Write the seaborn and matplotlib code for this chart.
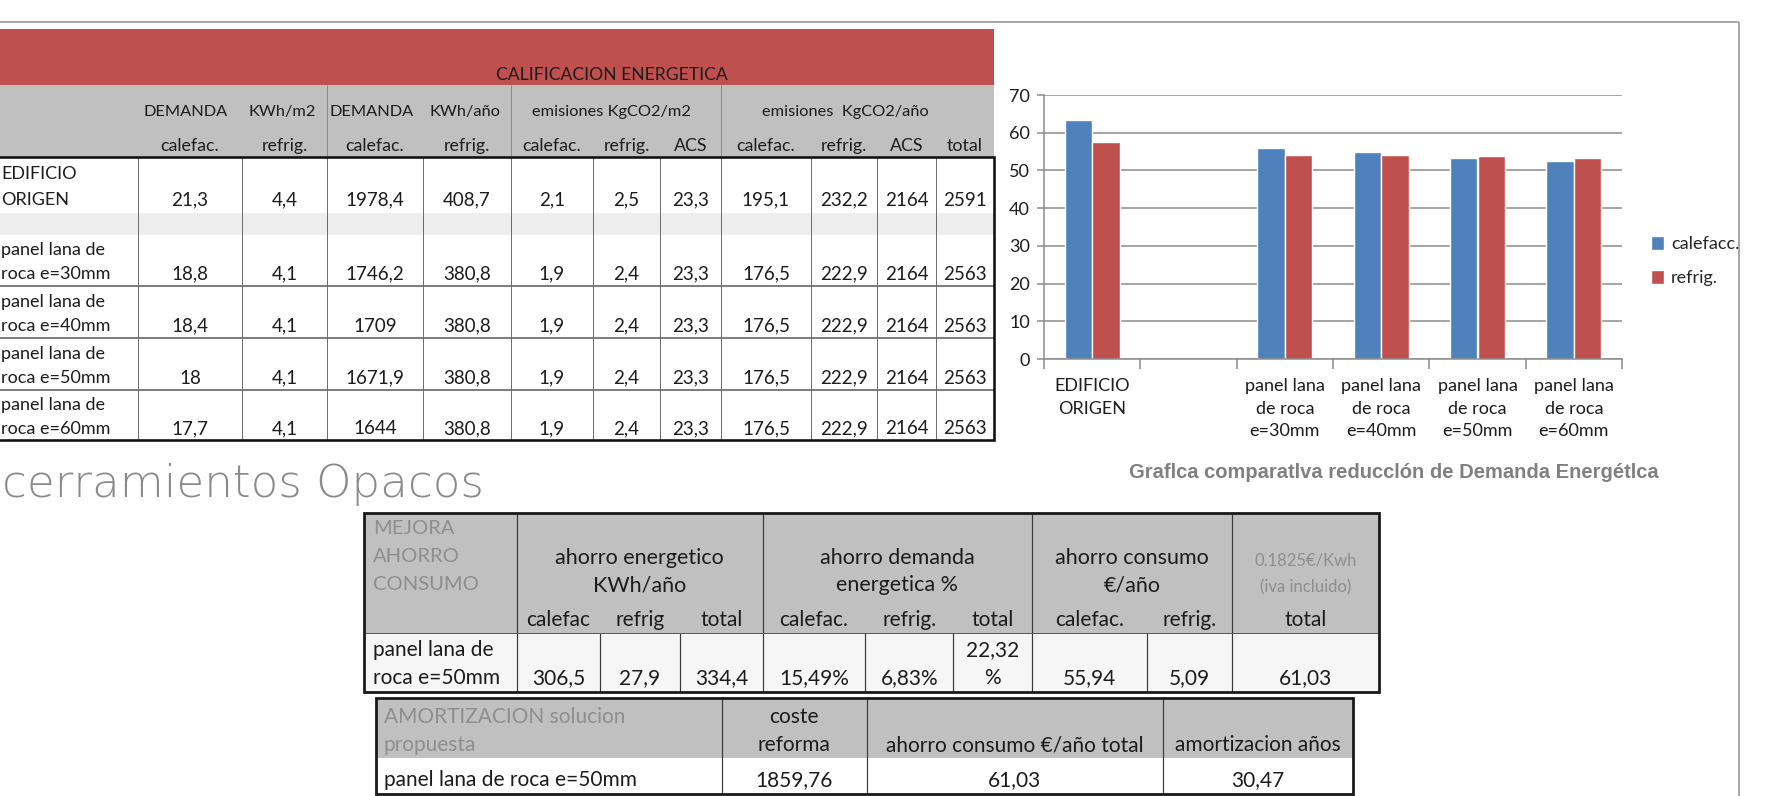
import numpy as np
import pandas as pd
import matplotlib
matplotlib.use("Agg")
import matplotlib.pyplot as plt
from matplotlib.patches import Rectangle
import seaborn as sns

# ---------------- data ----------------
# bar chart
bar_categories = ["EDIFICIO\nORIGEN", "panel lana\nde roca\ne=30mm", "panel lana\nde roca\ne=40mm",
                  "panel lana\nde roca\ne=50mm", "panel lana\nde roca\ne=60mm"]
chart_order = ["EDIFICIO\nORIGEN", "", "panel lana\nde roca\ne=30mm", "panel lana\nde roca\ne=40mm",
               "panel lana\nde roca\ne=50mm", "panel lana\nde roca\ne=60mm"]
series_names = ["calefacc.", "refrig."]
calefacc_values = [63.4, 56.0, 54.8, 53.4, 52.5]
refrig_values = [57.6, 54.0, 54.0, 53.8, 53.4]
y_ticks = [0, 10, 20, 30, 40, 50, 60, 70]
chart_caption = "Graflca comparatlva reducclón de Demanda Energétlca"

# top table
top_title = "CALIFICACION ENERGETICA"
top_group_headers = ["DEMANDA", "KWh/m2", "DEMANDA", "KWh/año", "emisiones KgCO2/m2", "emisiones  KgCO2/año"]
top_sub_headers = ["calefac.", "refrig.", "calefac.", "refrig.", "calefac.", "refrig.", "ACS",
                   "calefac.", "refrig.", "ACS", "total"]
top_row_labels = ["EDIFICIO\nORIGEN", "panel lana de\nroca e=30mm", "panel lana de\nroca e=40mm",
                  "panel lana de\nroca e=50mm", "panel lana de\nroca e=60mm"]
dem_m2_calef = ["21,3", "18,8", "18,4", "18", "17,7"]
dem_m2_refrig = ["4,4", "4,1", "4,1", "4,1", "4,1"]
dem_ano_calef = ["1978,4", "1746,2", "1709", "1671,9", "1644"]
dem_ano_refrig = ["408,7", "380,8", "380,8", "380,8", "380,8"]
em_m2_calef = ["2,1", "1,9", "1,9", "1,9", "1,9"]
em_m2_refrig = ["2,5", "2,4", "2,4", "2,4", "2,4"]
em_m2_acs = ["23,3", "23,3", "23,3", "23,3", "23,3"]
em_ano_calef = ["195,1", "176,5", "176,5", "176,5", "176,5"]
em_ano_refrig = ["232,2", "222,9", "222,9", "222,9", "222,9"]
em_ano_acs = ["2164", "2164", "2164", "2164", "2164"]
em_ano_total = ["2591", "2563", "2563", "2563", "2563"]
top_columns = [dem_m2_calef, dem_m2_refrig, dem_ano_calef, dem_ano_refrig, em_m2_calef, em_m2_refrig,
               em_m2_acs, em_ano_calef, em_ano_refrig, em_ano_acs, em_ano_total]

section_title = "cerramientos Opacos"

# savings table
t1_corner = ["MEJORA", "AHORRO", "CONSUMO"]
t1_groups = [["ahorro energetico", "KWh/año"], ["ahorro demanda", "energetica %"],
             ["ahorro consumo", "€/año"], ["0.1825€/Kwh", "(iva incluido)"]]
t1_sub = ["calefac", "refrig", "total", "calefac.", "refrig.", "total", "calefac.", "refrig.", "total"]
t1_row_label = ["panel lana de", "roca e=50mm"]
t1_values = ["306,5", "27,9", "334,4", "15,49%", "6,83%", "22,32\n%", "55,94", "5,09", "61,03"]

# amortisation table
t2_corner = ["AMORTIZACION solucion", "propuesta"]
t2_headers = [["coste", "reforma"], ["", "ahorro consumo €/año total"], ["", "amortizacion años"]]
t2_values = ["panel lana de roca e=50mm", "1859,76", "61,03", "30,47"]

# ---------------- style ----------------
sns.set_theme(style="white")
FONT = ["Lato", "DejaVu Sans"]
plt.rcParams["font.family"] = FONT

W, H = 1774, 796
PX = 0.72  # points per pixel at dpi 100
fig = plt.figure(figsize=(W / 100, H / 100), dpi=100)
bg = fig.add_axes([0, 0, 1, 1], zorder=0)
bg.set_xlim(0, W)
bg.set_ylim(H, 0)
bg.axis("off")

TXT = "#1c1c1c"
GRAYTXT = "#8e8e8e"
HEAD = "#c0c0c0"


def rect(x0, y0, x1, y1, fc, ec="none", lw=0, z=1):
    bg.add_patch(Rectangle((x0, y0), x1 - x0, y1 - y0, facecolor=fc, edgecolor=ec, linewidth=lw, zorder=z))


def hline(x0, x1, y, color, lw, z=2):
    bg.plot([x0, x1], [y, y], color=color, lw=lw * PX, solid_capstyle="butt", zorder=z)


def vline(x, y0, y1, color, lw, z=2):
    bg.plot([x, x], [y0, y1], color=color, lw=lw * PX, solid_capstyle="butt", zorder=z)


def T(x, y, s, size, ha="center", color=TXT, **kw):
    bg.text(x, y, s, ha=ha, va="center", fontsize=size, color=color, zorder=5, **kw)


# frame lines
hline(0, 1739, 21.7, "#a8a8a8", 2)
vline(1739, 21.7, H, "#a8a8a8", 2)

# ---------------- top table ----------------
edges = [0, 138, 242, 327, 423, 511, 593, 660, 721, 811, 877, 936, 994]
centers = [(edges[i] + edges[i + 1]) / 2 for i in range(len(edges) - 1)]
rect(0, 29, 994, 85, "#c0504d")
rect(0, 85, 994, 157, HEAD)
for x in (327, 511, 721):
    vline(x, 85, 157, "#8a8a8a", 1)
T(612, 75, top_title, 12.6)
group_x = [186, 282, 372, 465, 611, 845]
for s, x in zip(top_group_headers, group_x):
    T(x, 111.7, s, 11.8)
for s, x in zip(top_sub_headers, centers[1:]):
    T(x, 145.7, s, 12.8)

rows = [(157, 213), (235, 286), (286, 338), (338, 390), (390, 440)]
rect(0, 213, 994, 235, "#eeeeee")
for (y0, y1) in rows[1:4]:
    hline(0, 994, y1, "#555555", 1.5)
for x in edges[1:-1]:
    vline(x, 157, 440, "#6e6e6e", 1)
for i, (y0, y1) in enumerate(rows):
    h = y1 - y0
    l1, l2 = top_row_labels[i].split("\n")
    T(1, y0 + 0.30 * h, l1, 13, ha="left")
    T(1, y0 + 0.77 * h, l2, 13, ha="left")
    for c, col in enumerate(top_columns):
        T(centers[c + 1], y0 + 0.77 * h, col[i], 13.5)
rect(-5, 157, 994, 440, "none", ec="#111111", lw=2.6 * PX, z=3)

# section title
bg.text(2, 497, section_title, ha="left", va="baseline", fontsize=32.5, color="#8a8a8a",
        family=["DejaVu Sans"], fontweight="light", zorder=5)

# ---------------- savings table ----------------
e1 = [364.5, 517, 599.6, 680, 762.7, 865, 953.5, 1032, 1147, 1232, 1378.6]
c1 = [(e1[i] + e1[i + 1]) / 2 for i in range(len(e1) - 1)]
rect(e1[0], 512.7, e1[-1], 633, HEAD)
rect(e1[0], 633, e1[-1], 691.7, "#f6f6f6")
for x in (e1[1], e1[4], e1[7], e1[9]):
    vline(x, 512.7, 691.7, "#3a3a3a", 1.2)
for x in e1[2:4] + e1[5:7] + [e1[8]]:
    vline(x, 633, 691.7, "#3a3a3a", 1.2)
hline(e1[0], e1[-1], 633, "#5a5a5a", 1)
for s, y in zip(t1_corner, (528, 557, 584)):
    T(373, y, s, 14.5, ha="left", color=GRAYTXT)
gx = [(e1[1] + e1[4]) / 2, (e1[4] + e1[7]) / 2, (e1[7] + e1[9]) / 2, (e1[9] + e1[10]) / 2]
for k, (g, x) in enumerate(zip(t1_groups, gx)):
    if k == 3:
        T(x, 560, g[0], 12, color=GRAYTXT)
        T(x, 587, g[1], 12, color=GRAYTXT)
    else:
        T(x, 558, g[0], 15.5)
        T(x, 585, g[1], 15.5)
for s, x in zip(t1_sub, c1[1:]):
    T(x, 620, s, 15)
T(373, 650, t1_row_label[0], 15, ha="left")
T(373, 678, t1_row_label[1], 15, ha="left")
for s, x in zip(t1_values, c1[1:]):
    parts = s.split("\n")
    if len(parts) == 2:
        T(x, 650, parts[0], 15)
        T(x, 678, parts[1], 15)
    else:
        T(x, 678, s, 15)
rect(e1[0], 512.7, e1[-1], 691.7, "none", ec="#1a1a1a", lw=2.8 * PX, z=3)

# ---------------- amortisation table ----------------
e2 = [376, 721.6, 867, 1163, 1353.5]
c2 = [(e2[i] + e2[i + 1]) / 2 for i in range(len(e2) - 1)]
rect(e2[0], 698, e2[-1], 758, HEAD)
rect(e2[0], 758, e2[-1], 794, "white")
for x in e2[1:-1]:
    vline(x, 698, 794, "#3a3a3a", 1.2)
T(384, 717, t2_corner[0], 15, ha="left", color=GRAYTXT)
T(384, 745, t2_corner[1], 15, ha="left", color=GRAYTXT)
for hd, x in zip(t2_headers, c2[1:]):
    if hd[0]:
        T(x, 717, hd[0], 15)
    T(x, 745, hd[1], 15)
T(384, 780, t2_values[0], 15, ha="left")
for s, x in zip(t2_values[1:], c2[1:]):
    T(x, 780, s, 15)
rect(e2[0], 698, e2[-1], 794, "none", ec="#1a1a1a", lw=2.8 * PX, z=3)

# ---------------- bar chart ----------------
df = pd.DataFrame({
    "categoria": bar_categories * 2,
    "serie": [series_names[0]] * len(calefacc_values) + [series_names[1]] * len(refrig_values),
    "valor": calefacc_values + refrig_values,
})
ax = fig.add_axes([1044 / W, 1 - 359 / H, 578 / W, 264 / H], zorder=2)
ax.patch.set_alpha(0)
sns.barplot(data=df, x="categoria", y="valor", hue="serie", order=chart_order, hue_order=series_names,
            palette=["#4f81bd", "#c0504d"], width=0.57, saturation=1, errorbar=None, ax=ax)
ax.set_xlabel("")
ax.set_ylabel("")
ax.set_ylim(0, 70)
ax.set_xlim(-0.5, len(chart_order) - 0.5)
ax.set_yticks(y_ticks)
ax.yaxis.grid(True, color="#8c8c8c", lw=1.1)
ax.set_axisbelow(True)
for s in ("top", "right"):
    ax.spines[s].set_visible(False)
for s in ("left", "bottom"):
    ax.spines[s].set_color("#8c8c8c")
    ax.spines[s].set_linewidth(1.1)
ax.set_xticks(range(len(chart_order)))
ax.set_xticklabels(chart_order, fontsize=13, linespacing=1.5, color=TXT)
ax.tick_params(axis="x", which="major", length=0, pad=14)
ax.set_xticks(np.arange(-0.5, len(chart_order), 1), minor=True)
ax.tick_params(axis="x", which="minor", length=7, width=1.1, color="#8c8c8c", direction="out", bottom=True)
ax.tick_params(axis="y", length=5, width=1.1, color="#8c8c8c", direction="out", left=True,
               labelsize=13, labelcolor=TXT, pad=5)
handles, labels = ax.get_legend_handles_labels()
ax.legend(handles, labels, loc="center left", bbox_to_anchor=(1.05, 0.37), frameon=False,
          fontsize=13, handlelength=0.75, handleheight=0.75, handletextpad=0.35, labelspacing=1.0,
          borderpad=0, borderaxespad=0)

bg.text(1394, 472, chart_caption, ha="center", va="center", fontsize=14.5, fontweight="bold",
        color="#808080", family=["Liberation Sans", "DejaVu Sans"], zorder=5)

fig.savefig("out.png", dpi=100)
